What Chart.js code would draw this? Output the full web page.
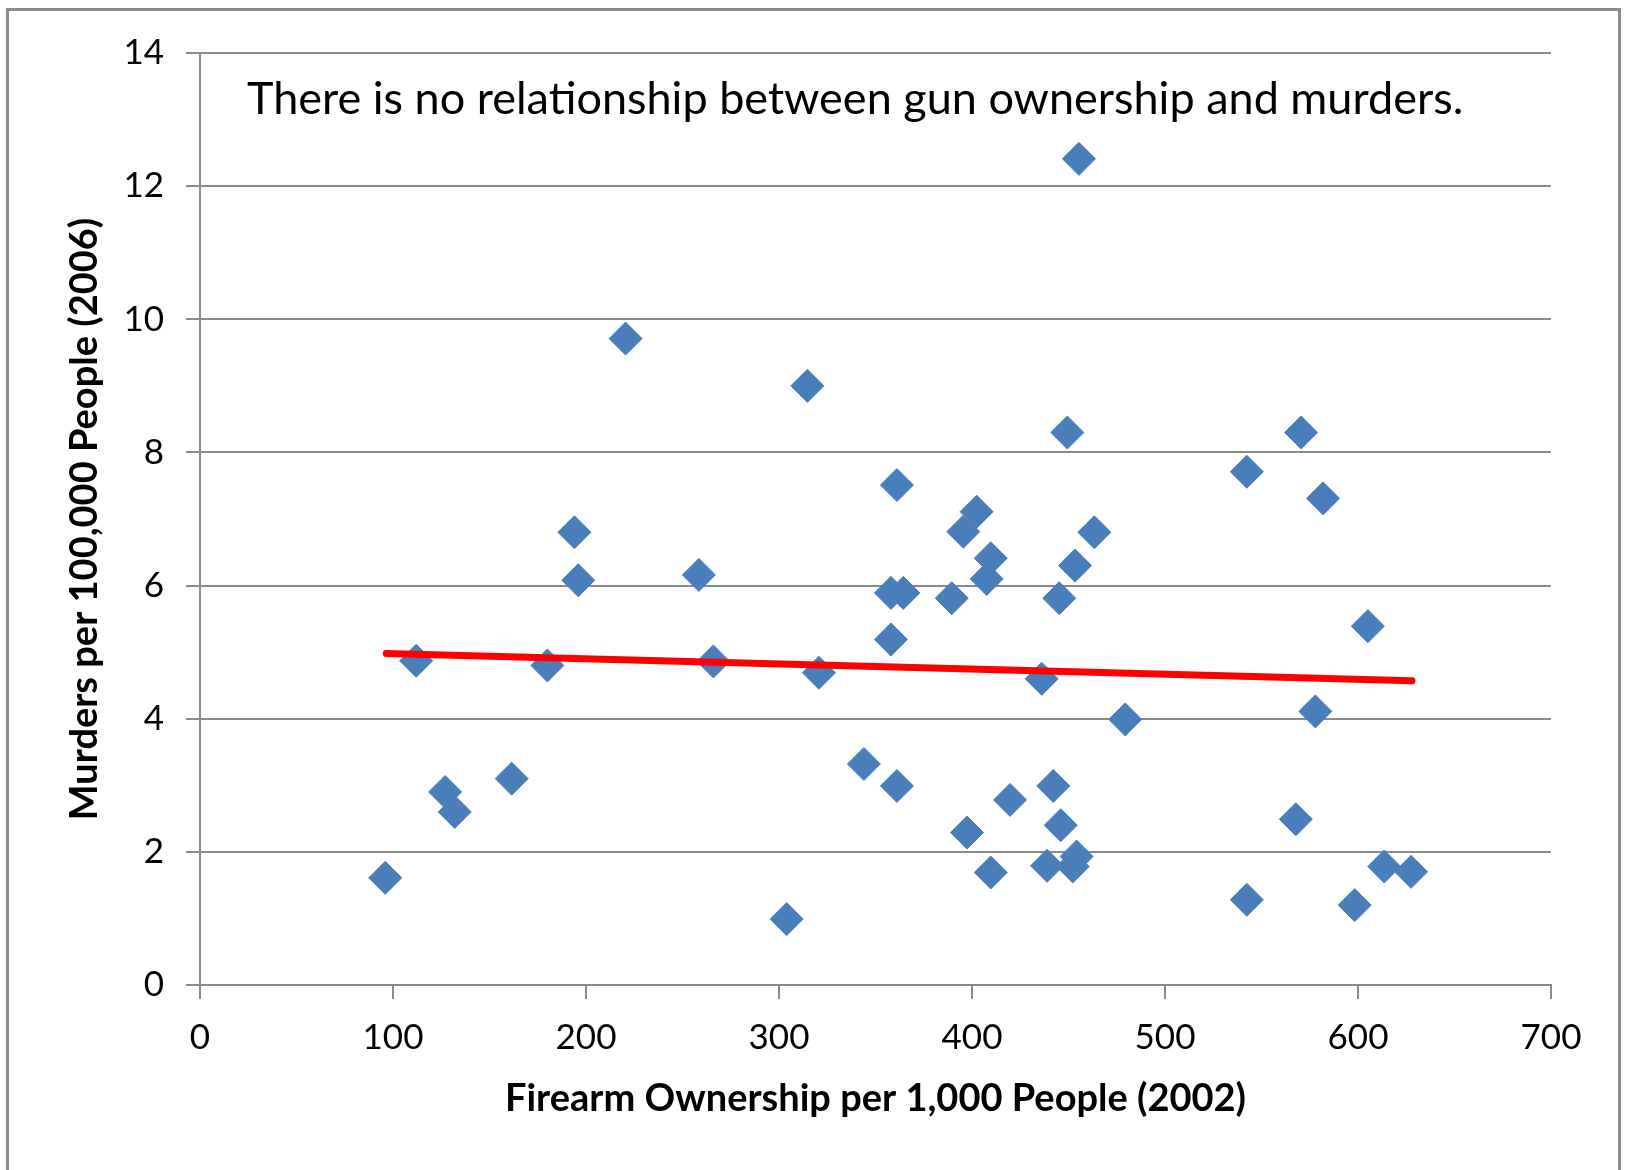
<!DOCTYPE html>
<html>
<head>
<meta charset="utf-8">
<script src="https://cdn.jsdelivr.net/npm/chart.js@4.4.1/dist/chart.umd.min.js"></script>
<style>
  html, body { margin: 0; padding: 0; background: #ffffff; }
  #wrap { position: relative; width: 1625px; height: 1170px; }
  canvas { display: block; }
</style>
</head>
<body>
<div id="wrap"><canvas id="c" width="1625" height="1170"></canvas></div>
<script>
// Firearm ownership per 1,000 people (2002)
const ownership = [96, 112, 127, 132, 161.5, 180, 194, 196, 220.5, 258.5,
  266, 304, 314.7, 320.7, 344, 358, 358, 364.4, 361.1, 361.1,
  389.5, 395.5, 402.4, 397.4, 409.7, 407.6, 409.7, 419.7, 436.1, 438.9,
  442.1, 445.2, 446, 449.4, 453.4, 452.2, 454.2, 455.4, 463.4, 479.4,
  542.4, 542.4, 567.8, 570.5, 577.9, 581.9, 598.3, 605.1, 613.6, 627.5];
// Murders per 100,000 people (2006)
const murders = [1.61, 4.87, 2.90, 2.60, 3.10, 4.80, 6.80, 6.08, 9.71, 6.16,
  4.86, 0.99, 9.00, 4.69, 3.32, 5.19, 5.89, 5.89, 7.51, 2.99,
  5.81, 6.81, 7.11, 2.29, 6.41, 6.10, 1.69, 2.78, 4.60, 1.79,
  2.99, 5.81, 2.40, 8.30, 6.30, 1.78, 1.93, 12.41, 6.80, 3.99,
  7.71, 1.28, 2.49, 8.30, 4.11, 7.31, 1.20, 5.39, 1.78, 1.70];
// Linear trend line end points
const trendX = [96.5, 628];
const trendY = [4.98, 4.57];
// Axis ranges / ticks
const xTicks = [0, 100, 200, 300, 400, 500, 600, 700];
const yTicks = [0, 2, 4, 6, 8, 10, 12, 14];
const annotation = 'There is no relationship between gun ownership and murders.';
const xTitle = 'Firearm Ownership per 1,000 People (2002)';
const yTitle = 'Murders per 100,000 People (2006)';

const scatterPts = ownership.map((x, i) => ({ x: x, y: murders[i] }));
const trendPts = trendX.map((x, i) => ({ x: x, y: trendY[i] }));

const GRID = '#8a8a8a';
const FONT = 'Lato, "Open Sans", sans-serif';

const framePlugin = {
  id: 'frame',
  beforeDraw(chart) {
    const ctx = chart.ctx;
    ctx.save();
    ctx.fillStyle = '#ffffff';
    ctx.fillRect(0, 0, chart.width, chart.height);
    ctx.strokeStyle = '#8c8c8c';
    ctx.lineWidth = 3;
    ctx.strokeRect(7.5, 9.5, 1612, 1300);
    ctx.restore();
  },
  afterDraw(chart) {
    const ctx = chart.ctx;
    ctx.save();
    ctx.fillStyle = '#000000';
    ctx.font = '45px ' + FONT;
    ctx.textBaseline = 'alphabetic';
    ctx.textAlign = 'left';
    ctx.fillText(annotation, 247, 114);
    ctx.restore();
  }
};

new Chart(document.getElementById('c'), {
  type: 'scatter',
  data: {
    datasets: [
      {
        type: 'line',
        label: 'Trend',
        data: trendPts,
        borderColor: '#ff0000',
        borderWidth: 7,
        borderCapStyle: 'round',
        pointRadius: 0,
        fill: false,
        order: 0
      },
      {
        label: 'Countries',
        data: scatterPts,
        pointStyle: 'rectRot',
        pointRadius: 16.5,
        pointHoverRadius: 16.5,
        backgroundColor: '#4a7ebb',
        borderColor: '#4a7ebb',
        borderWidth: 1,
        order: 1
      }
    ]
  },
  options: {
    responsive: false,
    animation: false,
    layout: { padding: { left: 0, top: 53, right: 74, bottom: 0 } },
    plugins: {
      legend: { display: false },
      tooltip: { enabled: false },
      title: { display: false }
    },
    scales: {
      x: {
        type: 'linear',
        min: 0, max: 700,
        afterBuildTicks(scale) { scale.ticks = xTicks.map(v => ({ value: v })); },
        afterFit(scale) { scale.height = 185; },
        grid: { drawOnChartArea: false, drawTicks: true, tickLength: 14, color: GRID, lineWidth: 2 },
        border: { display: true, color: GRID, width: 2 },
        ticks: { color: '#000', font: { family: FONT, size: 35 }, padding: 18, maxRotation: 0 },
        title: {
          display: true, text: xTitle, color: '#000',
          font: { family: FONT, size: 38, weight: 'bold' },
          padding: { top: 0, bottom: 48 }
        }
      },
      y: {
        type: 'linear',
        min: 0, max: 14,
        afterBuildTicks(scale) { scale.ticks = yTicks.map(v => ({ value: v })); },
        afterFit(scale) { scale.width = 200; },
        grid: { drawOnChartArea: true, drawTicks: true, tickLength: 14, color: GRID, lineWidth: 2 },
        border: { display: true, color: GRID, width: 2 },
        ticks: { color: '#000', font: { family: FONT, size: 35 }, padding: 22 },
        title: {
          display: true, text: yTitle, color: '#000',
          font: { family: FONT, size: 38, weight: 'bold' },
          padding: { top: 62, bottom: 0 }
        }
      }
    }
  },
  plugins: [framePlugin]
});
</script>
</body>
</html>
